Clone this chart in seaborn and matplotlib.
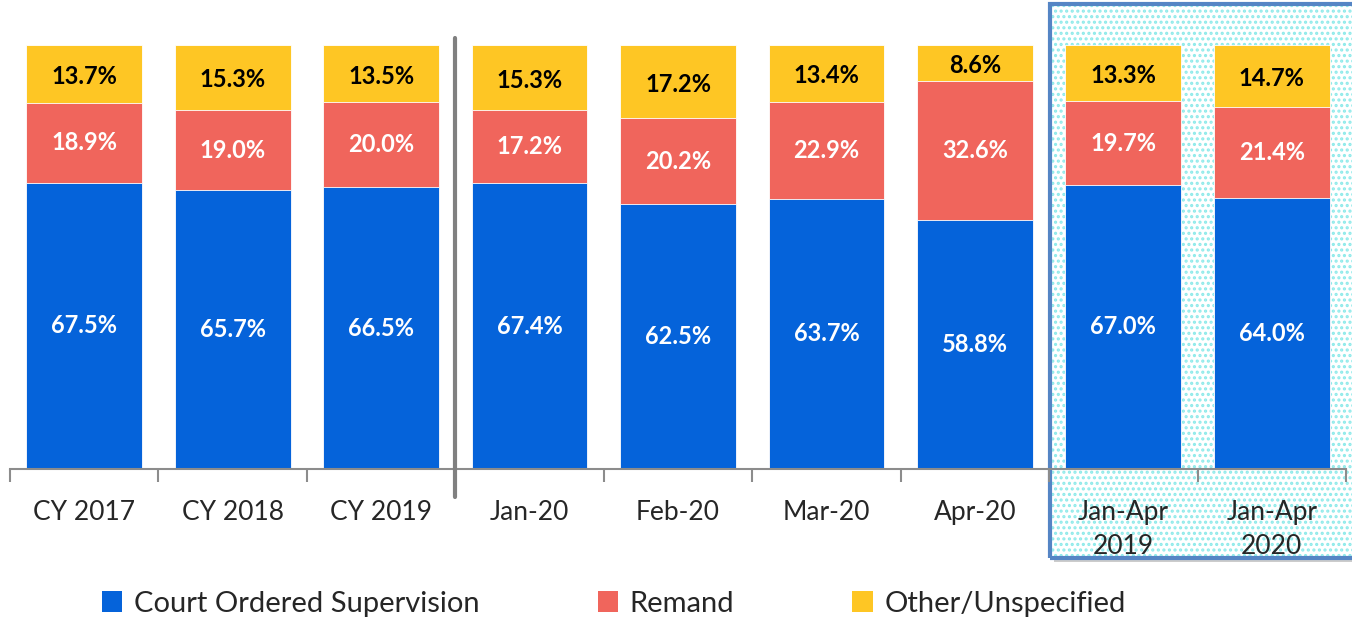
import numpy as np
import pandas as pd
import matplotlib.pyplot as plt
import seaborn as sns
from matplotlib.patches import Rectangle, Patch

categorias = ['CY 2017', 'CY 2018', 'CY 2019', 'Jan-20', 'Feb-20', 'Mar-20',
              'Apr-20', 'Jan-Apr\n2019', 'Jan-Apr\n2020']
supervisao = [67.5, 65.7, 66.5, 67.4, 62.5, 63.7, 58.8, 67.0, 64.0]
remand = [18.9, 19.0, 20.0, 17.2, 20.2, 22.9, 32.6, 19.7, 21.4]
outros = [13.7, 15.3, 13.5, 15.3, 17.2, 13.4, 8.6, 13.3, 14.7]

series = ['Court Ordered Supervision', 'Remand', 'Other/Unspecified']
cores = ['#0563DA', '#F0655C', '#FEC624']

df = pd.DataFrame({'categoria': categorias, 'sup': supervisao,
                   'rem': remand, 'out': outros})
df['cum_rem'] = df['sup'] + df['rem']
df['cum_out'] = df['cum_rem'] + df['out']

sns.set_style('white')
plt.rcParams['font.family'] = ['Lato', 'DejaVu Sans']
plt.rcParams['hatch.linewidth'] = 1.5

fig = plt.figure(figsize=(13.52, 6.2), dpi=100)
ax = fig.add_axes([10 / 1352, 1 - 469 / 620, 1336 / 1352, 424 / 620])
ax.patch.set_alpha(0)

# caixa destacada Jan-Apr (atras das barras)
sombra = Rectangle((1054 / 1352, 1 - 562 / 620), 0.3, 557 / 620,
                   transform=fig.transFigure, facecolor='#cccccc',
                   edgecolor='none', zorder=0.1, clip_on=False)
fundo = Rectangle((1050 / 1352, 1 - 558 / 620), 0.3, 554 / 620,
                  transform=fig.transFigure, facecolor='white',
                  edgecolor='#8EEAEA', hatch='...', linewidth=0, zorder=0.2,
                  clip_on=False)
borda = Rectangle((1050 / 1352, 1 - 558 / 620), 0.3, 554 / 620,
                  transform=fig.transFigure, facecolor='none',
                  edgecolor='#5585C5', linewidth=3, zorder=0.3, clip_on=False)
for p in (sombra, fundo, borda):
    ax.add_artist(p)

# barras empilhadas (totais acumulados desenhados de tras para frente)
for col, cor in zip(['cum_out', 'cum_rem', 'sup'], cores[::-1]):
    sns.barplot(data=df, x='categoria', y=col, color=cor, width=0.78,
                saturation=1, edgecolor='white', linewidth=0.6, ax=ax,
                zorder=2)

ax.set_xlim(-0.5, len(categorias) - 0.5)
ax.set_ylim(0, 100)

# rotulos
for i in range(len(categorias)):
    ax.text(i, supervisao[i] / 2, f'{supervisao[i]:.1f}%', ha='center',
            va='center', color='white', fontsize=17, fontweight='bold',
            zorder=3)
    ax.text(i, supervisao[i] + remand[i] / 2, f'{remand[i]:.1f}%',
            ha='center', va='center', color='white', fontsize=17,
            fontweight='bold', zorder=3)
    ax.text(i, supervisao[i] + remand[i] + outros[i] / 2 - 0.6,
            f'{outros[i]:.1f}%', ha='center', va='center', color='black',
            fontsize=17, fontweight='bold', zorder=3)

# eixos
sns.despine(ax=ax, left=True)
ax.spines['bottom'].set_color('#8c8c8c')
ax.spines['bottom'].set_linewidth(1.5)
ax.spines['bottom'].set_zorder(2.5)
ax.set_yticks([])
ax.set_xlabel('')
ax.set_ylabel('')
ax.set_xticks(np.arange(len(categorias)))
ax.set_xticklabels(categorias, fontsize=19, linespacing=1.45)
ax.tick_params(axis='x', which='major', length=0, pad=22)
ax.set_xticks(np.arange(len(categorias) + 1) - 0.5, minor=True)
ax.tick_params(axis='x', which='minor', bottom=True, length=9, width=1.5,
               color='#8c8c8c', direction='out')

# separador entre anos e meses
ax.axvline(2.5, ymin=-0.066, ymax=1.017, color='#808080', linewidth=3,
           clip_on=False, zorder=3)

handles = [Patch(facecolor=c, edgecolor='none') for c in cores]
fig.legend(handles, series, loc='center', bbox_to_anchor=(0.454, 0.026),
           ncol=3, frameon=False, fontsize=21, handlelength=0.7,
           handleheight=0.7, handletextpad=0.4, columnspacing=4.05)

plt.savefig('out.png', dpi=100)
